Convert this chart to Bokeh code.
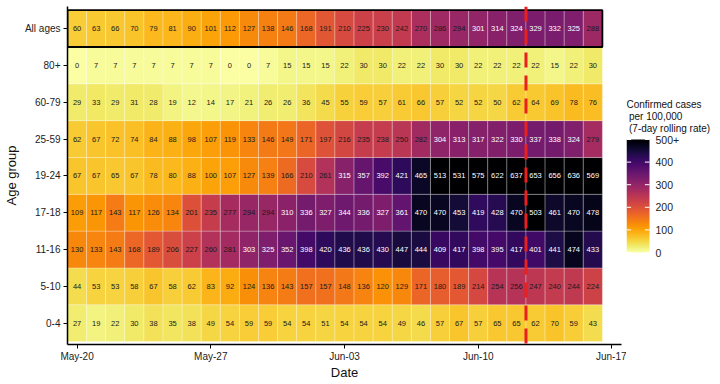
import numpy as np
from bokeh.plotting import figure
from bokeh.layouts import row
from bokeh.models import (ColumnDataSource, LinearColorMapper, FixedTicker, Span, Range1d)
from bokeh.palettes import Inferno256
from bokeh.transform import transform
from bokeh.embed import file_html
from bokeh.resources import INLINE
from bokeh.core.properties import value

# ---------------- data ----------------
age_groups = ["0-4", "5-10", "11-16", "17-18", "19-24", "25-59", "60-79", "80+", "All ages"]
n_days = 28  # May-20 .. Jun-16
tick_days = [0, 7, 14, 21, 28]
tick_labels = ["May-20", "May-27", "Jun-03", "Jun-10", "Jun-17"]
cutoff_index = 24  # first day after the dashed line (Jun-13)
legend_ticks = [0, 100, 200, 300, 400, 500]
legend_tick_labels = ["0", "100", "200", "300", "400", "500+"]
legend_title = ["Confirmed cases", "per 100,000", "(7-day rolling rate)"]
scale_max = 500

all_ages = [60, 63, 66, 70, 79, 81, 90, 101, 112, 127, 138, 146, 168, 191, 210, 225, 230, 242,
            270, 286, 294, 301, 314, 324, 329, 332, 325, 288]
age_80 = [0, 7, 7, 7, 7, 7, 7, 7, 0, 0, 7, 15, 15, 15, 22, 30, 30, 22, 22, 30, 30, 22, 22, 22,
          22, 15, 22, 30]
age_60_79 = [29, 33, 29, 31, 28, 19, 12, 14, 17, 21, 26, 26, 36, 45, 55, 59, 57, 61, 66, 57, 52,
             52, 50, 62, 64, 69, 78, 76]
age_25_59 = [62, 67, 72, 74, 84, 88, 98, 107, 119, 133, 146, 149, 171, 197, 216, 235, 238, 250,
             282, 304, 313, 317, 322, 330, 337, 338, 324, 279]
age_19_24 = [67, 67, 65, 67, 78, 80, 88, 100, 107, 127, 139, 166, 210, 261, 315, 357, 392, 421,
             465, 513, 531, 575, 622, 637, 653, 656, 636, 569]
age_17_18 = [109, 117, 143, 117, 126, 134, 201, 235, 277, 294, 294, 310, 336, 327, 344, 336, 327,
             361, 470, 470, 453, 419, 428, 470, 503, 461, 470, 478]
age_11_16 = [130, 133, 143, 168, 189, 206, 227, 260, 281, 303, 325, 352, 398, 420, 436, 436, 430,
             447, 444, 409, 417, 398, 395, 417, 401, 441, 474, 433]
age_5_10 = [44, 53, 53, 58, 67, 58, 62, 83, 92, 124, 136, 143, 157, 157, 148, 136, 120, 129, 171,
            180, 189, 214, 254, 256, 247, 240, 244, 224]
age_0_4 = [27, 19, 22, 30, 38, 35, 38, 49, 54, 59, 59, 54, 54, 51, 54, 54, 54, 49, 46, 57, 67, 57,
           65, 65, 62, 70, 59, 43]

rows = [age_0_4, age_5_10, age_11_16, age_17_18, age_19_24, age_25_59, age_60_79, age_80, all_ages]

xs, ys, vals, labels, tcolors = [], [], [], [], []
for ri, r in enumerate(rows):
    for d, v in enumerate(r):
        xs.append(d)
        ys.append(ri)
        vals.append(v)
        labels.append(str(v))
        tcolors.append("white" if v >= 300 else "#1a1a1a")

src = ColumnDataSource(dict(x=xs, y=ys, v=vals, label=labels, tc=tcolors))

palette = list(reversed(Inferno256))
mapper = LinearColorMapper(palette=palette, low=0, high=scale_max, high_color=Inferno256[0])

FONT = "Liberation Sans"
TOP, FRAME_H, BOTTOM = 6, 338, 40

# ---------------- main heatmap ----------------
p = figure(frame_width=554, frame_height=FRAME_H, output_backend="svg", toolbar_location=None,
           x_range=Range1d(-0.5, 28.5), y_range=Range1d(-0.58, 8.6),
           min_border_left=63, min_border_right=5, min_border_top=TOP,
           min_border_bottom=BOTTOM)
p.outline_line_color = None
p.grid.visible = False

p.rect(x="x", y="y", width=1, height=1, source=src,
       fill_color=transform("v", mapper), line_color="white", line_alpha=0.35, line_width=0.8)

p.text(x="x", y="y", text="label", source=src, text_color="tc",
       text_align="center", text_baseline="middle", text_font_size="7.5px",
       text_font=value(FONT))

# outline around the "All ages" row
top_row = len(rows) - 1
p.rect(x=[(n_days - 1) / 2], y=[top_row], width=n_days, height=1,
       fill_alpha=0, line_color="black", line_width=1.8)

# dashed cutoff line
p.add_layout(Span(location=cutoff_index - 0.5, dimension="height", line_color="#e8211f",
                  line_width=3, line_dash="15 8"))

# axes
p.xaxis.ticker = FixedTicker(ticks=tick_days)
p.xaxis.major_label_overrides = {d: l for d, l in zip(tick_days, tick_labels)}
p.yaxis.ticker = FixedTicker(ticks=list(range(len(age_groups))))
p.yaxis.major_label_overrides = {i: g for i, g in enumerate(age_groups)}
p.xaxis.axis_label = "Date"
p.yaxis.axis_label = "Age group"
for ax in (p.xaxis, p.yaxis):
    ax.axis_line_color = "black"
    ax.axis_line_width = 1.5
    ax.major_tick_line_color = "black"
    ax.major_tick_out = 4
    ax.major_tick_in = 0
    ax.minor_tick_line_color = None
    ax.major_label_text_font = FONT
    ax.major_label_text_font_size = "10px"
    ax.major_label_text_color = "#222222"
    ax.axis_label_text_font = FONT
    ax.axis_label_text_font_size = "13px"
    ax.axis_label_text_font_style = "normal"
    ax.axis_label_text_color = "#111111"
p.xaxis.major_label_standoff = 2
p.yaxis.major_label_standoff = 3
p.xaxis.axis_label_standoff = 0
p.yaxis.axis_label_standoff = 3

# ---------------- legend (separate panel, drawn with a value scale) ----------------
LG_W = 86
bar_top_px, bar_bot_px = 139, 252          # page rows of the 500 and 0 ends of the bar
ppu = (bar_bot_px - bar_top_px) / scale_max
frame_bottom_px = TOP + FRAME_H
lg = figure(frame_width=LG_W, frame_height=FRAME_H, output_backend="svg",
            toolbar_location=None, x_axis_type=None, y_axis_type=None,
            x_range=Range1d(0, LG_W),
            y_range=Range1d(-(frame_bottom_px - bar_bot_px) / ppu,
                            scale_max + (bar_top_px - TOP) / ppu),
            min_border_left=0, min_border_right=0, min_border_top=TOP,
            min_border_bottom=BOTTOM)
lg.outline_line_color = None
lg.grid.visible = False

bar_w = 23
grad = np.linspace(0, scale_max, 256).reshape(-1, 1)
lg.image(image=[grad], x=0, y=0, dw=bar_w, dh=scale_max,
         color_mapper=LinearColorMapper(palette=palette, low=0, high=scale_max))
# white ticks on both edges of the bar
lg.segment(x0=0, x1=bar_w / 5, y0=legend_ticks, y1=legend_ticks, line_color="white",
           line_width=1)
lg.segment(x0=bar_w - bar_w / 5, x1=bar_w, y0=legend_ticks, y1=legend_ticks,
           line_color="white", line_width=1)
lg.text(x=bar_w + 6, y=legend_ticks, text=legend_tick_labels, text_baseline="middle",
        text_align="left", text_font_size="10.5px", text_font=value(FONT),
        text_color="#222222")
title_px = [104, 116, 128]
lg.text(x=[0, 2.5, 2.5], y=[scale_max + (bar_top_px - t) / ppu for t in title_px],
        text=legend_title, text_baseline="middle", text_align="left",
        text_font_size="10px", text_font=value(FONT), text_color="#111111")

layout = row(p, lg)
open("out.html", "w").write(file_html(layout, INLINE))
